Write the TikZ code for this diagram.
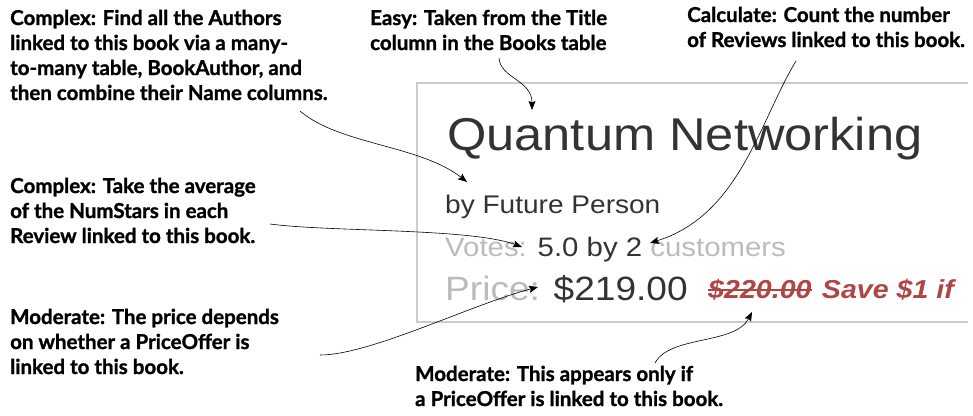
\documentclass[tikz,border=0pt]{standalone}
\usepackage{fontspec}
\usetikzlibrary{arrows.meta}
\newfontfamily\calloutfont[BoldFeatures={FakeBold=1.2}]{Lato}
\newfontfamily\boxfont[FakeStretch=1.1]{Liberation Sans}
\definecolor{darktext}{HTML}{333333}
\definecolor{lighttext}{HTML}{BBBBBB}
\definecolor{offerred}{HTML}{B04545}
\definecolor{boxline}{HTML}{CCCCCC}
\tikzset{
  callout/.style={anchor=base west, inner sep=0pt, align=left,
    font=\calloutfont\bfseries\fontsize{20.5}{25}\selectfont, text=black},
  boxtext/.style={anchor=base west, inner sep=0pt, text=darktext},
  pointer/.style={draw=black, line width=0.6pt,
    -{Stealth[length=9pt,width=7pt,inset=1.5pt]}},
}
\begin{document}
\begin{tikzpicture}[x=1pt,y=-1pt]
\useasboundingbox (0,0) rectangle (973,415);
% screenshot box
\draw[boxline, line width=1.2pt] (968,83) -- (417,83) -- (417,322) -- (968,322);
% box contents
\node[boxtext, font=\boxfont\fontsize{46}{50}\selectfont] (title) at (447,150) {Quantum Networking};
\node[boxtext, font=\boxfont\fontsize{25.5}{28}\selectfont] (author) at (445,213) {by Future Person};
\node[boxtext, font=\boxfont\fontsize{26.7}{30}\selectfont] (votes) at (445,256)
  {{\color{lighttext}Votes: }5.0 by 2 {\color{lighttext}customers}};
\node[boxtext, font=\boxfont\fontsize{33.7}{36}\selectfont] (price) at (445,300)
  {{\color{lighttext}Price: }\$219.00};
\node[boxtext, text=offerred, font=\boxfont\bfseries\itshape\fontsize{26}{30}\selectfont] (oldprice) at (708,298) {\$220.00};
\node[boxtext, text=offerred, font=\boxfont\bfseries\itshape\fontsize{26}{30}\selectfont, anchor=base west] (save) at ([xshift=10pt]oldprice.base east) {Save \$1 if};
\draw[offerred, line width=1.6pt] ([yshift=8pt]oldprice.base west) -- ([yshift=8pt]oldprice.base east);
% callouts (positioned by the baseline of their last line)
\node[callout] (cauthors) at (10,100) {Complex: Find all the Authors\\linked to this book via a many-\\to-many table, BookAuthor, and\\then combine their Name columns.};
\node[callout] (ceasy) at (370,50) {Easy: Taken from the Title\\column in the Books table};
\node[callout] (ccalc) at (687,47) {Calculate: Count the number\\of Reviews linked to this book.};
\node[callout] (cavg) at (10,243) {Complex: Take the average\\of the NumStars in each\\Review linked to this book.};
\node[callout] (cprice) at (10,374) {Moderate: The price depends\\on whether a PriceOffer is\\linked to this book.};
\node[callout] (coffer) at (415,406) {Moderate: This appears only if\\a PriceOffer is linked to this book.};
% connector end points
\coordinate (sauthors) at (300,111);
\coordinate (tauthors) at (467,182);
\coordinate (seasy) at (499,58);
\coordinate (teasy) at (532,110);
\coordinate (scalc) at (796,61);
\coordinate (tcalc) at (650,243);
\coordinate (savg) at (270,224);
\coordinate (tavg) at (522,247);
\coordinate (sprice) at (320,355);
\coordinate (tprice) at (538,287);
\coordinate (soffer) at (655,363);
\coordinate (toffer) at (752,312);
% connectors
\draw[pointer] (sauthors) .. controls (340,145) and (420,145) .. (tauthors);
\draw[pointer] (seasy) .. controls (500,78) and (532,80) .. (teasy);
\draw[pointer] (scalc) .. controls (760,120) and (740,215) .. (tcalc);
\draw[pointer] (savg) .. controls (330,232) and (470,228) .. (tavg);
\draw[pointer] (sprice) .. controls (370,355) and (470,305) .. (tprice);
\draw[pointer] (soffer) .. controls (670,335) and (735,345) .. (toffer);
\end{tikzpicture}
\end{document}
